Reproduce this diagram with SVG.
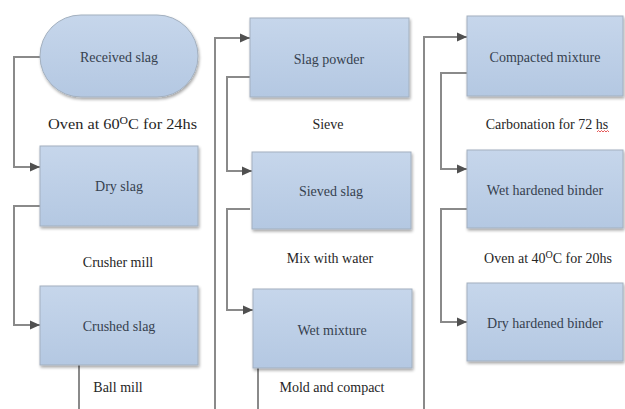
<svg xmlns="http://www.w3.org/2000/svg" width="625" height="409" viewBox="0 0 625 409">
<defs>
<linearGradient id="g" x1="0" y1="0" x2="0" y2="1">
<stop offset="0" stop-color="#c6d6eb"/>
<stop offset="1" stop-color="#b4c8e2"/>
</linearGradient>
<filter id="sh" x="-10%" y="-10%" width="130%" height="130%">
<feGaussianBlur in="SourceAlpha" stdDeviation="1.5"/>
<feOffset dx="1" dy="2" result="b"/>
<feComponentTransfer><feFuncA type="linear" slope="0.35"/></feComponentTransfer>
<feMerge><feMergeNode/><feMergeNode in="SourceGraphic"/></feMerge>
</filter>
<marker id="arr" markerUnits="userSpaceOnUse" markerWidth="10" markerHeight="10" viewBox="0 0 10 10" refX="10" refY="5" orient="auto">
<path d="M0,0.5 L10,5 L0,9.5 Z" fill="#505050"/>
</marker>
</defs>
<style>
.box{fill:url(#g);stroke:#a3b0bf;stroke-width:1;filter:url(#sh)}
.bt{font-family:"Liberation Serif","Times New Roman",serif;font-size:14px;fill:#36414f;text-anchor:middle}
.lb{font-family:"Liberation Serif","Times New Roman",serif;font-size:14px;fill:#262626;text-anchor:middle}
.c{fill:none;stroke:#8a8a8a;stroke-width:2}
.ca{fill:none;stroke:#8a8a8a;stroke-width:2;marker-end:url(#arr)}
</style>
<rect width="625" height="409" fill="#ffffff"/>
<g id="connectors">
<path class="ca" d="M40,57 H14 V167 H40"/>
<path class="ca" d="M40,206 H14 V325 H40"/>
<path class="c" d="M79,365 V409"/>
<path class="ca" d="M215,409 V38 H250"/>
<path class="ca" d="M250,77 H227 V171 H252"/>
<path class="ca" d="M250,209 H227 V310 H253"/>
<path class="c" d="M258,368 V409"/>
<path class="ca" d="M424,409 V37 H467"/>
<path class="ca" d="M467,73 H441 V169 H467"/>
<path class="ca" d="M467,209 H441 V322 H467"/>
</g>
<g id="received-slag">
<rect class="box" x="40" y="15" width="158" height="82" rx="41" ry="41"/>
<text class="bt" x="119" y="62">Received slag</text>
</g>
<g id="dry-slag">
<rect class="box" x="40" y="146" width="158" height="80"/>
<text class="bt" x="119" y="191">Dry slag</text>
</g>
<g id="crushed-slag">
<rect class="box" x="40" y="286" width="158" height="79"/>
<text class="bt" x="119" y="331">Crushed slag</text>
</g>
<g id="slag-powder">
<rect class="box" x="250" y="18" width="159" height="79"/>
<text class="bt" x="329" y="64">Slag powder</text>
</g>
<g id="sieved-slag">
<rect class="box" x="252" y="152" width="159" height="77"/>
<text class="bt" x="331" y="196">Sieved slag</text>
</g>
<g id="wet-mixture">
<rect class="box" x="253" y="289" width="159" height="79"/>
<text class="bt" x="332" y="335">Wet mixture</text>
</g>
<g id="compacted-mixture">
<rect class="box" x="467" y="16" width="156" height="80"/>
<text class="bt" x="545" y="62">Compacted mixture</text>
</g>
<g id="wet-hardened-binder">
<rect class="box" x="467" y="150" width="156" height="78"/>
<text class="bt" x="545" y="195">Wet hardened binder</text>
</g>
<g id="dry-hardened-binder">
<rect class="box" x="467" y="283" width="156" height="78"/>
<text class="bt" x="545" y="328">Dry hardened binder</text>
</g>
<g id="labels">
<text class="lb" x="48" y="129" style="text-anchor:start" textLength="149" lengthAdjust="spacingAndGlyphs">Oven at 60<tspan font-size="10" dy="-5">O</tspan><tspan dy="5">C for 24hs</tspan></text>
<text class="lb" x="118" y="267">Crusher mill</text>
<text class="lb" x="118" y="392">Ball mill</text>
<text class="lb" x="328" y="129">Sieve</text>
<text class="lb" x="330" y="263">Mix with water</text>
<text class="lb" x="332" y="392">Mold and compact</text>
<text class="lb" x="547" y="129">Carbonation for 72 hs</text>
<path d="M597,132 l1.5,-1.5 l1.5,1.5 l1.5,-1.5 l1.5,1.5 l1.5,-1.5 l1.5,1.5 l1.5,-1.5 l1.5,1.5" fill="none" stroke="#e03030" stroke-width="0.8"/>
<text class="lb" x="548" y="263">Oven at 40<tspan font-size="10" dy="-5">O</tspan><tspan dy="5">C for 20hs</tspan></text>
</g>
</svg>
